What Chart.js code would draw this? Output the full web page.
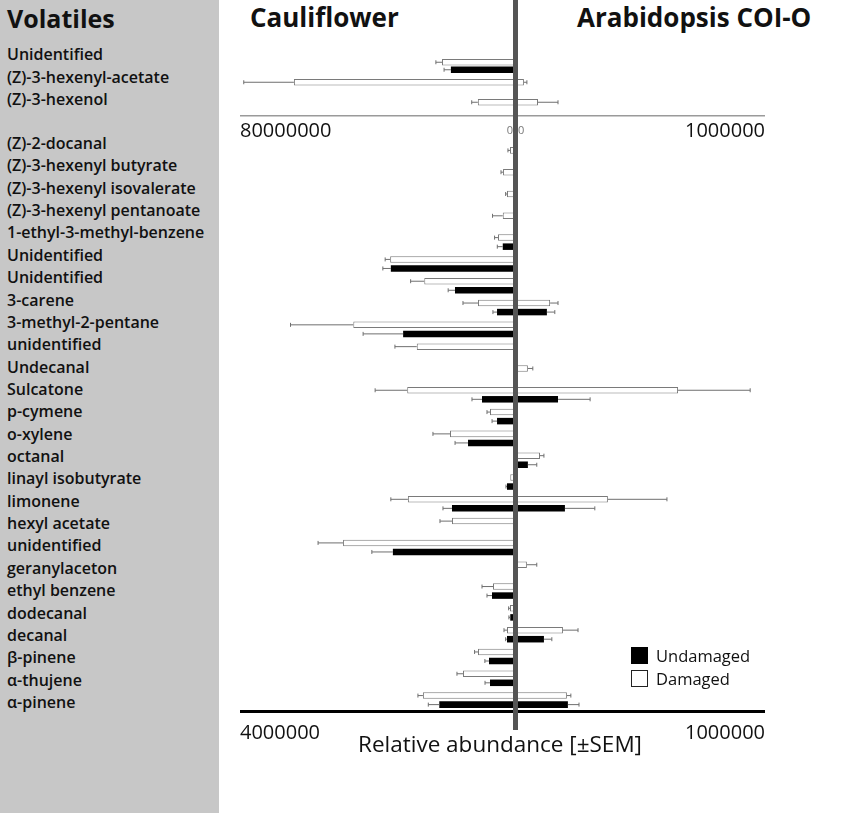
<!DOCTYPE html>
<html>
<head>
<meta charset="utf-8">
<script src="https://cdn.jsdelivr.net/npm/chart.js@4.4.1/dist/chart.umd.min.js"></script>
<style>
  html, body { margin: 0; padding: 0; background: #fff; }
  body { width: 851px; height: 813px; position: relative; overflow: hidden; font-family: "Open Sans", sans-serif; color: #111; }
  #side { position: absolute; left: 0; top: 0; width: 219px; height: 813px; background: #c7c7c7; }
  .lbl { position: absolute; left: 7px; font-size: 16px; font-weight: 600; line-height: 20px; white-space: nowrap; transform: translateY(-9px); }
  .ttl { position: absolute; font-size: 26px; font-weight: 700; line-height: 30px; white-space: nowrap; }
  .box { position: absolute; }
  #centre { position: absolute; left: 513px; top: 0; width: 5px; height: 730px; background: #555; z-index: 5; }
  #xtitle { position: absolute; left: 358px; top: 730px; font-size: 22.5px; line-height: 28px; white-space: nowrap; }
  .leg { position: absolute; left: 631px; width: 17px; height: 17px; box-sizing: border-box; }
  .legt { position: absolute; left: 656px; font-size: 16.5px; line-height: 20px; white-space: nowrap; }
</style>
</head>
<body>
<div id="side"></div>
<div class="ttl" style="left:7px;top:3px;font-size:25px;">Volatiles</div>
<div class="ttl" style="left:250px;top:2px;">Cauliflower</div>
<div class="ttl" style="left:577px;top:2px;">Arabidopsis COI-O</div>
<div id="labels"></div>

<div class="box" style="left:240px;top:56px;width:273px;height:90px;"><canvas id="cTL"></canvas></div>
<div class="box" style="left:518px;top:56px;width:247px;height:90px;"><canvas id="cTR"></canvas></div>
<div class="box" style="left:240px;top:144px;width:273px;height:607px;"><canvas id="cBL"></canvas></div>
<div class="box" style="left:518px;top:144px;width:247px;height:607px;"><canvas id="cBR"></canvas></div>
<div id="centre"></div>
<div id="xtitle">Relative abundance [±SEM]</div>
<div id="legend"></div>

<script>
// categories
const topCompounds = ["Unidentified", "(Z)-3-hexenyl-acetate", "(Z)-3-hexenol"];
const bottomCompounds = [
  "(Z)-2-docanal", "(Z)-3-hexenyl butyrate", "(Z)-3-hexenyl isovalerate", "(Z)-3-hexenyl pentanoate",
  "1-ethyl-3-methyl-benzene", "Unidentified", "Unidentified", "3-carene", "3-methyl-2-pentane",
  "unidentified", "Undecanal", "Sulcatone", "p-cymene", "o-xylene", "octanal", "linayl isobutyrate",
  "limonene", "hexyl acetate", "unidentified", "geranylaceton", "ethyl benzene", "dodecanal",
  "decanal", "β-pinene", "α-thujene", "α-pinene"
];

// tick labels
const cauliTopTicks = [0, 80000000];
const cauliBottomTicks = [0, 4000000];
const araTicks = [0, 1000000];

// top panel, cauliflower
const cauliTopDamaged = [20800000, 64200000, 10300000];
const cauliTopDamagedErr = [1800000, 14700000, 1800000];
const cauliTopUndamaged = [18200000, null, null];
const cauliTopUndamagedErr = [2000000, null, null];

// top panel, arabidopsis
const araTopDamaged = [null, 24000, 81000];
const araTopDamagedErr = [null, 12000, 81000];
const araTopUndamaged = [null, null, null];
const araTopUndamagedErr = [null, null, null];

// bottom panel, cauliflower
const cauliDamaged = [44000, 146000, 88000, 150000, 220000, 1800000, 1300000, 513000, 2340000, 1410000,
  null, 1550000, 337000, 923000, null, 40000, 1540000, 894000, 2490000, null,
  293000, 44000, 88000, 513000, 733000, 1320000];
const cauliDamagedErr = [30000, 30000, 20000, 150000, 50000, 73000, 200000, 220000, 920000, 320000,
  null, 470000, 44000, 250000, null, null, 250000, 176000, 366000, null,
  161000, 20000, 44000, 50000, 88000, 73000];
const cauliUndamaged = [null, null, null, null, 150000, 1790000, 850000, 234000, 1610000, null,
  null, 454000, 234000, 659000, null, 88000, 894000, null, 1760000, null,
  308000, 40000, 88000, 352000, 337000, 1080000];
const cauliUndamagedErr = [null, null, null, null, 80000, 117000, 100000, 60000, 586000, null,
  null, 147000, 73000, 190000, null, 15000, 132000, null, 308000, null,
  73000, 20000, 20000, 60000, 73000, 161000];

// bottom panel, arabidopsis
const araDamaged = [null, null, null, null, null, null, null, 130000, null, null,
  40000, 648000, null, null, 89000, null, 364000, null, null, 36000,
  null, null, 182000, null, null, 198000];
const araDamagedErr = [null, null, null, null, null, null, null, 32000, null, null,
  20000, 292000, null, null, 16000, null, 239000, null, null, 40000,
  null, null, 61000, null, null, 16000];
const araUndamaged = [null, null, null, null, null, null, null, 117000, null, null,
  null, 162000, null, null, 40000, null, 190000, null, null, null,
  null, null, 105000, null, null, 202000];
const araUndamagedErr = [null, null, null, null, null, null, null, 32000, null, null,
  null, 130000, null, null, 36000, null, 121000, null, null, null,
  null, null, 32000, null, null, 45000];

const seriesNames = ["Damaged", "Undamaged"];
const FONT = "'Open Sans', sans-serif";

// compound names in the grey column
const labelBox = document.getElementById("labels");
topCompounds.forEach((name, i) => {
  const d = document.createElement("div");
  d.className = "lbl";
  d.style.top = (53 + i * 22.5) + "px";
  d.textContent = name;
  labelBox.appendChild(d);
});
bottomCompounds.forEach((name, i) => {
  const d = document.createElement("div");
  d.className = "lbl";
  d.style.top = (142 + i * 22.36) + "px";
  d.textContent = name;
  labelBox.appendChild(d);
});

// legend
const legendBox = document.getElementById("legend");
[["Undamaged", "#000", "none", 647], ["Damaged", "#fff", "1.5px solid #222", 670]].forEach(([name, bg, border, y]) => {
  const sw = document.createElement("div");
  sw.className = "leg";
  sw.style.top = y + "px";
  sw.style.background = bg;
  sw.style.border = border;
  legendBox.appendChild(sw);
  const t = document.createElement("div");
  t.className = "legt";
  t.style.top = (y - 1) + "px";
  t.textContent = name;
  legendBox.appendChild(t);
});

// whiskers for the SEM
const errorBars = {
  id: "errorBars",
  afterDatasetsDraw(chart) {
    const ctx = chart.ctx;
    const xs = chart.scales.x;
    chart.data.datasets.forEach((ds, di) => {
      if (!ds.errors) return;
      const meta = chart.getDatasetMeta(di);
      meta.data.forEach((bar, i) => {
        const v = ds.data[i], e = ds.errors[i];
        if (v == null || e == null) return;
        const x0 = xs.getPixelForValue(v);
        const x1 = xs.getPixelForValue(v + e);
        ctx.save();
        ctx.strokeStyle = "#6f6f6f";
        ctx.lineWidth = 1;
        ctx.beginPath();
        ctx.moveTo(x0, bar.y);
        ctx.lineTo(x1, bar.y);
        ctx.moveTo(x1, bar.y - 2);
        ctx.lineTo(x1, bar.y + 2);
        ctx.stroke();
        ctx.restore();
      });
    });
  }
};

function makeChart(id, o) {
  return new Chart(document.getElementById(id), {
    type: "bar",
    data: {
      labels: o.labels,
      datasets: [
        {
          label: seriesNames[0], data: o.damaged, errors: o.damagedErr,
          backgroundColor: "#fff", borderColor: "#7a7a7a", borderWidth: 1
        },
        {
          label: seriesNames[1], data: o.undamaged, errors: o.undamagedErr,
          backgroundColor: "#000", borderWidth: 0
        }
      ]
    },
    options: {
      indexAxis: "y",
      responsive: true,
      maintainAspectRatio: false,
      animation: false,
      layout: { padding: 0 },
      categoryPercentage: o.catPct,
      barPercentage: o.barPct,
      plugins: { legend: { display: false }, tooltip: { enabled: false } },
      scales: {
        y: { display: false, offset: true },
        x: {
          min: 0,
          max: o.ticks[1],
          reverse: o.reverse,
          afterBuildTicks: s => { s.ticks = o.ticks.map(v => ({ value: v })); },
          afterFit: s => { s.height = o.axisHeight; },
          grid: { display: false, drawTicks: false },
          border: { display: true, color: o.axisColor, width: o.axisWidth },
          ticks: {
            align: "inner",
            autoSkip: false,
            maxRotation: 0,
            padding: 0,
            color: c => (c.tick && c.tick.value === 0) ? "#777" : "#111",
            font: c => (c.tick && c.tick.value === 0)
              ? { family: FONT, size: 11, lineHeight: o.labelLine }
              : { family: FONT, size: 20, lineHeight: o.labelLine },
            callback: v => (v === 0 ? (o.showZero ? "0" : "") : String(v))
          }
        }
      }
    },
    plugins: [errorBars]
  });
}

makeChart("cTL", {
  labels: topCompounds, damaged: cauliTopDamaged, damagedErr: cauliTopDamagedErr,
  undamaged: cauliTopUndamaged, undamagedErr: cauliTopUndamagedErr,
  ticks: cauliTopTicks, reverse: true, showZero: true, axisHeight: 30, labelLine: "30px",
  axisColor: "#9a9a9a", axisWidth: 1.5, catPct: 0.75, barPct: 0.87
});
makeChart("cTR", {
  labels: topCompounds, damaged: araTopDamaged, damagedErr: araTopDamagedErr,
  undamaged: araTopUndamaged, undamagedErr: araTopUndamagedErr,
  ticks: araTicks, reverse: false, showZero: true, axisHeight: 30, labelLine: "30px",
  axisColor: "#9a9a9a", axisWidth: 1.5, catPct: 0.75, barPct: 0.87
});
makeChart("cBL", {
  labels: bottomCompounds, damaged: cauliDamaged, damagedErr: cauliDamagedErr,
  undamaged: cauliUndamaged, undamagedErr: cauliUndamagedErr,
  ticks: cauliBottomTicks, reverse: true, showZero: false, axisHeight: 40, labelLine: "44px",
  axisColor: "#000", axisWidth: 3, catPct: 0.83, barPct: 0.72
});
makeChart("cBR", {
  labels: bottomCompounds, damaged: araDamaged, damagedErr: araDamagedErr,
  undamaged: araUndamaged, undamagedErr: araUndamagedErr,
  ticks: araTicks, reverse: false, showZero: false, axisHeight: 40, labelLine: "44px",
  axisColor: "#000", axisWidth: 3, catPct: 0.83, barPct: 0.72
});
</script>
</body>
</html>
